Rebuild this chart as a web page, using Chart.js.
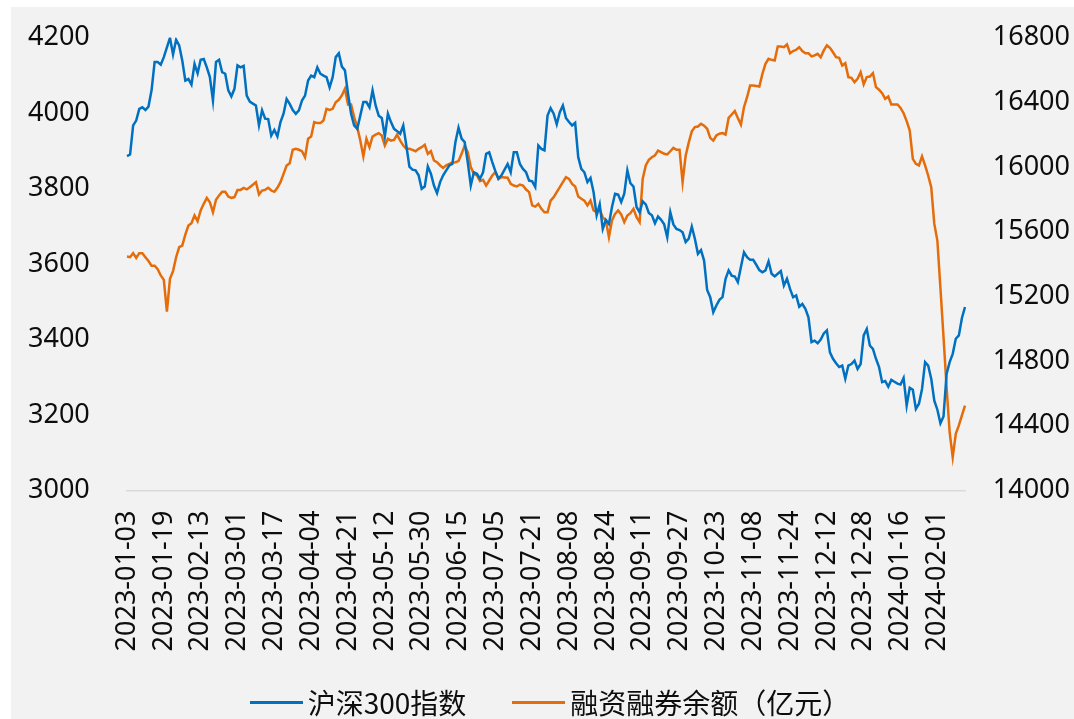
<!DOCTYPE html>
<html>
<head>
<meta charset="utf-8">
<script src="https://cdn.jsdelivr.net/npm/chart.js@4.4.1/dist/chart.umd.min.js"></script>
<style>
  html, body { margin: 0; padding: 0; background: #fff; }
  #bg { position: absolute; left: 11px; top: 7px; width: 1063px; height: 712px; background: #f2f2f2; }
  #wrap { position: absolute; left: 0; top: 0; width: 1074px; height: 719px; }
  #legend { position: absolute; left: 0; top: 684px; width: 1100px; height: 36px;
            display: flex; justify-content: center; align-items: center;
            font-family: "Noto Sans CJK SC", sans-serif; font-size: 28px; color: #0d0d0d; }
  .item { display: flex; align-items: center; margin: 0 23px; white-space: nowrap; }
  .swatch { width: 53px; height: 3px; margin-right: 5px; }
</style>
</head>
<body>
<div id="bg"></div>
<div id="wrap"><canvas id="canvas" width="1074" height="719"></canvas></div>
<div id="legend"></div>
<script>
// 沪深300指数 (daily close)
var hs300 = [
  3886, 3890, 3967, 3980, 4011, 4015, 4008, 4017, 4060, 4135,
  4135, 4128, 4148, 4174, 4199, 4155, 4194, 4179, 4139, 4086,
  4090, 4075, 4130, 4105, 4141, 4143, 4121, 4095, 4033, 4135,
  4141, 4108, 4104, 4060, 4044, 4064, 4126, 4121, 4125, 4046,
  4030, 4025, 4020, 3967, 4007, 3985, 3984, 3940, 3955, 3938, 3976,
  3998, 4037, 4024, 4008, 3998, 4007, 4033, 4046, 4086, 4099,
  4095, 4121, 4104, 4099, 4095, 4068, 4095, 4148, 4158, 4123,
  4113, 4051, 3998, 3967, 3958, 3993, 4029, 4029, 4015, 4060,
  4020, 3993, 3987, 3938, 3998, 3976, 3958, 3952, 3945, 3967,
  3914, 3858, 3850, 3848, 3835, 3799, 3805, 3858, 3839, 3808,
  3788, 3817, 3835, 3848, 3861, 3865, 3923, 3961, 3932, 3923,
  3870, 3808, 3843, 3839, 3826, 3843, 3892, 3896, 3870, 3846,
  3826, 3835, 3850, 3865, 3843, 3896, 3896, 3865, 3852, 3843, 3821,
  3819, 3804, 3914, 3905, 3901, 3993, 4013, 3998, 3970, 4002,
  4020, 3987, 3976, 3967, 3974, 3883, 3852, 3843, 3817, 3828,
  3790, 3729, 3758, 3693, 3717, 3706, 3751, 3786, 3784, 3764,
  3786, 3848, 3814, 3805, 3751, 3737, 3766, 3758, 3735, 3729,
  3708, 3726, 3717, 3705, 3671, 3737, 3705, 3693, 3690, 3684,
  3658, 3667, 3699, 3667, 3627, 3637, 3609, 3531, 3512, 3472,
  3490, 3505, 3512, 3561, 3583, 3569, 3567, 3552, 3592, 3631,
  3618, 3611, 3611, 3598, 3584, 3578, 3583, 3607, 3574, 3567, 3574,
  3581, 3543, 3561, 3534, 3512, 3517, 3487, 3494, 3481, 3459,
  3393, 3397, 3390, 3400, 3416, 3424, 3366, 3349, 3337, 3327,
  3331, 3296, 3331, 3335, 3344, 3322, 3335, 3411, 3428, 3384,
  3375, 3349, 3327, 3287, 3290, 3275, 3293, 3288, 3283, 3281, 3298,
  3225, 3272, 3267, 3216, 3230, 3269, 3340, 3331, 3296, 3238,
  3214, 3178, 3196, 3309, 3340, 3362, 3402, 3411, 3457, 3486
];

// 融资融券余额 (亿元)
var margin = [
  15446, 15442, 15467, 15438, 15467, 15467, 15442, 15418, 15389, 15389,
  15368, 15329, 15302, 15106, 15308, 15356, 15442, 15504, 15514, 15582,
  15638, 15652, 15700, 15665, 15731, 15772, 15809, 15782, 15720, 15797,
  15824, 15846, 15846, 15817, 15809, 15813, 15858, 15858, 15870, 15861,
  15875, 15890, 15906, 15830, 15854, 15858, 15871, 15854, 15846, 15871, 15906,
  15957, 16009, 16023, 16106, 16112, 16106, 16097, 16060, 16174, 16188,
  16277, 16271, 16271, 16287, 16359, 16353, 16359, 16400, 16415, 16442,
  16483, 16386, 16386, 16308, 16246, 16163, 16065, 16174, 16122, 16188,
  16200, 16209, 16194, 16132, 16174, 16163, 16167, 16200, 16163, 16132,
  16112, 16112, 16105, 16097, 16112, 16122, 16137, 16081, 16097, 16040,
  16029, 16009, 15994, 16010, 16019, 16027, 16029, 16036, 16081, 16132,
  16091, 15999, 15957, 15947, 15912, 15920, 15885, 15916, 15947, 15968,
  15926, 15937, 15935, 15933, 15895, 15885, 15879, 15891, 15885, 15860, 15844,
  15762, 15755, 15772, 15741, 15720, 15720, 15792, 15813, 15844, 15875,
  15906, 15937, 15926, 15895, 15879, 15817, 15803, 15792, 15762, 15792,
  15731, 15720, 15735, 15689, 15669, 15566, 15669, 15710, 15731, 15706,
  15659, 15700, 15714, 15741, 15689, 15659, 15926, 16009, 16044, 16060,
  16071, 16101, 16091, 16081, 16077, 16097, 16118, 16106, 16106, 15906,
  16070, 16150, 16220, 16246, 16250, 16266, 16255, 16236, 16180, 16163,
  16194, 16205, 16209, 16200, 16303, 16324, 16345, 16303, 16262, 16369,
  16431, 16503, 16503, 16500, 16497, 16575, 16637, 16668, 16662, 16658, 16744,
  16744, 16740, 16757, 16703, 16716, 16724, 16740, 16716, 16703, 16703,
  16683, 16689, 16699, 16678, 16720, 16751, 16736, 16709, 16678, 16674,
  16627, 16641, 16555, 16551, 16524, 16545, 16586, 16510, 16555, 16559,
  16580, 16493, 16477, 16456, 16421, 16435, 16386, 16386, 16386, 16365, 16332,
  16283, 16225, 16050, 16019, 16009, 16065, 16009, 15947, 15875, 15648,
  15545, 15250, 14950, 14640, 14360, 14206, 14350, 14402, 14464, 14525
];

var leftTicks = [3000, 3200, 3400, 3600, 3800, 4000, 4200];
var rightTicks = [14000, 14400, 14800, 15200, 15600, 16000, 16400, 16800];

// exchange calendar: first trading day and days the market was closed
var firstDay = '2023-01-03';
var closedDays = [
  '2023-01-02', '2023-01-23', '2023-01-24', '2023-01-25', '2023-01-26', '2023-01-27',
  '2023-04-05', '2023-05-01', '2023-05-02', '2023-05-03', '2023-06-22', '2023-06-23',
  '2023-09-29', '2023-10-02', '2023-10-03', '2023-10-04', '2023-10-05', '2023-10-06',
  '2024-01-01', '2024-02-09', '2024-02-12', '2024-02-13', '2024-02-14', '2024-02-15', '2024-02-16'
];
var labelEvery = 12;

function tradingDays(start, n) {
  var out = [];
  var d = new Date(start + 'T00:00:00Z');
  while (out.length < n) {
    var s = d.toISOString().slice(0, 10);
    var wd = d.getUTCDay();
    if (wd !== 0 && wd !== 6 && closedDays.indexOf(s) < 0) out.push(s);
    d.setUTCDate(d.getUTCDate() + 1);
  }
  return out;
}
var dates = tradingDays(firstDay, hs300.length);

var tickFont = { family: 'Noto Sans', size: 27 };
var blue = '#0070C0';
var orange = '#E46C0A';
var plain = function (v) { return String(v); };

var chart = new Chart(document.getElementById('canvas').getContext('2d'), {
  type: 'line',
  data: {
    labels: dates,
    datasets: [{
      label: '沪深300指数',
      data: hs300,
      borderColor: blue,
      backgroundColor: blue,
      borderWidth: 2.5,
      pointRadius: 0,
      tension: 0,
      yAxisID: 'y'
    }, {
      label: '融资融券余额（亿元）',
      data: margin,
      borderColor: orange,
      backgroundColor: orange,
      borderWidth: 2.5,
      pointRadius: 0,
      tension: 0,
      yAxisID: 'y1'
    }]
  },
  options: {
    responsive: false,
    animation: false,
    devicePixelRatio: 1,
    layout: { padding: { left: 28, right: 4, top: 37.5, bottom: 0 } },
    plugins: {
      legend: { display: false },
      tooltip: { enabled: false }
    },
    scales: {
      x: {
        grid: { display: false, drawTicks: false },
        border: { display: true, color: '#d9d9d9', width: 1.5 },
        ticks: {
          autoSkip: false,
          minRotation: 90,
          maxRotation: 90,
          padding: 20,
          color: '#0d0d0d',
          font: tickFont,
          callback: function (value, index) {
            return index % labelEvery === 0 ? this.getLabelForValue(value) : null;
          }
        },
        afterFit: function (s) { s.height = 719 - 490.5; }
      },
      y: {
        position: 'left',
        min: leftTicks[0],
        max: leftTicks[leftTicks.length - 1],
        grid: { display: false, drawTicks: false },
        border: { display: false },
        ticks: { stepSize: leftTicks[1] - leftTicks[0], padding: 0, crossAlign: 'far', color: '#0d0d0d', font: tickFont, callback: plain },
        afterFit: function (s) { s.width = 127 - 28; }
      },
      y1: {
        position: 'right',
        min: rightTicks[0],
        max: rightTicks[rightTicks.length - 1],
        grid: { display: false, drawTicks: false },
        border: { display: false },
        ticks: { stepSize: rightTicks[1] - rightTicks[0], padding: 0, crossAlign: 'far', color: '#0d0d0d', font: tickFont, callback: plain },
        afterFit: function (s) { s.width = 1074 - 4 - 965; }
      }
    }
  }
});

// legend drawn as html text from the datasets
var legend = document.getElementById('legend');
chart.data.datasets.forEach(function (ds) {
  var item = document.createElement('div');
  item.className = 'item';
  var sw = document.createElement('span');
  sw.className = 'swatch';
  sw.style.background = ds.borderColor;
  var tx = document.createElement('span');
  tx.textContent = ds.label;
  item.appendChild(sw);
  item.appendChild(tx);
  legend.appendChild(item);
});
</script>
</body>
</html>
